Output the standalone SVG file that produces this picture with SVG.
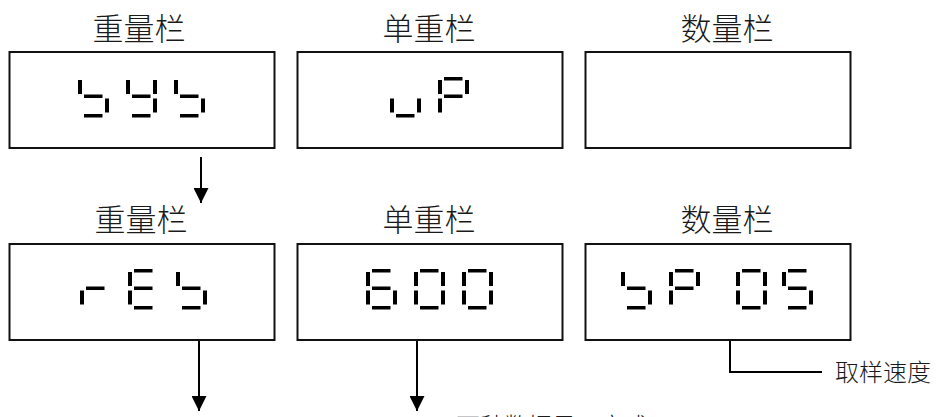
<svg xmlns="http://www.w3.org/2000/svg" width="940" height="417" viewBox="0 0 940 417">
<style>
.box{fill:#fff;stroke:#111;stroke-width:2}
.lbl{font-family:"Noto Sans CJK SC","Noto Sans",sans-serif;font-size:31px;font-weight:300;fill:#1a1a1a;text-anchor:middle}
.txt{font-family:"Noto Sans CJK SC","Noto Sans",sans-serif;font-size:24px;font-weight:300;fill:#1a1a1a}
.seg{fill:#000}
.ln{stroke:#000;stroke-width:2;fill:none}
</style>
<defs>
<rect id="a" class="seg" x="6" y="0" width="18.5" height="3.5"/>
<rect id="f" class="seg" x="0" y="3" width="4" height="14"/>
<rect id="b" class="seg" x="27" y="3" width="4" height="14"/>
<rect id="g" class="seg" x="6" y="17.5" width="18.5" height="3.5"/>
<rect id="e" class="seg" x="0" y="21.5" width="4" height="14"/>
<rect id="c" class="seg" x="27" y="21.5" width="4" height="14"/>
<rect id="d" class="seg" x="6" y="37" width="18.5" height="3.5"/>
<g id="d_s"><use href="#f"/><use href="#g"/><use href="#c"/><use href="#d"/></g>
<g id="d_y"><use href="#f"/><use href="#b"/><use href="#g"/><use href="#c"/><use href="#d"/></g>
<g id="d_u"><use href="#e"/><use href="#c"/><use href="#d"/></g>
<g id="d_P"><use href="#a"/><use href="#f"/><use href="#b"/><use href="#g"/><use href="#e"/></g>
<g id="d_r"><use href="#g"/><use href="#e"/></g>
<g id="d_E"><use href="#a"/><use href="#f"/><use href="#g"/><use href="#e"/><use href="#d"/></g>
<g id="d_6"><use href="#a"/><use href="#f"/><use href="#g"/><use href="#e"/><use href="#c"/><use href="#d"/></g>
<g id="d_0"><use href="#a"/><use href="#f"/><use href="#b"/><use href="#e"/><use href="#c"/><use href="#d"/></g>
<g id="d_5"><use href="#a"/><use href="#f"/><use href="#g"/><use href="#c"/><use href="#d"/></g>
<marker id="arr" markerWidth="15" markerHeight="15" refX="15" refY="7.5" orient="auto" markerUnits="userSpaceOnUse" viewBox="0 0 15 15">
<path d="M0,0 L15,7.5 L0,15 Z" fill="#000"/>
</marker>
</defs>
<rect width="940" height="417" fill="#fff"/>

<g id="w1">
<text class="lbl" x="139" y="40">重量栏</text>
<rect class="box" x="9.5" y="52" width="265" height="96"/>
<use href="#d_s" x="78" y="77"/><use href="#d_y" x="126" y="77"/><use href="#d_s" x="174" y="77"/>
</g>
<g id="u1">
<text class="lbl" x="429" y="40">单重栏</text>
<rect class="box" x="297.5" y="52" width="265" height="96"/>
<use href="#d_u" x="390" y="77"/><use href="#d_P" x="438" y="77"/>
</g>
<g id="q1">
<text class="lbl" x="727" y="40">数量栏</text>
<rect class="box" x="585.5" y="52" width="265" height="96"/>
</g>

<g id="w2">
<text class="lbl" x="141" y="231">重量栏</text>
<rect class="box" x="9.5" y="244" width="265" height="96"/>
<use href="#d_r" x="80" y="269"/><use href="#d_E" x="128" y="269"/><use href="#d_s" x="176" y="269"/>
</g>
<g id="u2">
<text class="lbl" x="429" y="231">单重栏</text>
<rect class="box" x="297.5" y="244" width="265" height="96"/>
<use href="#d_6" x="366" y="269"/><use href="#d_0" x="414" y="269"/><use href="#d_0" x="462" y="269"/>
</g>
<g id="q2">
<text class="lbl" x="727" y="231">数量栏</text>
<rect class="box" x="585.5" y="244" width="265" height="96"/>
<use href="#d_s" x="621" y="269"/><use href="#d_P" x="669" y="269"/><use href="#d_0" x="736" y="269"/><use href="#d_5" x="782" y="269"/>
</g>

<g id="speed">
<text class="txt" x="835" y="381">取样速度</text>
</g>
<g id="bottom">
<text class="txt" x="456" y="435">两种数据显示方式</text>
</g>

<g id="connectors">
<line class="ln" x1="201" y1="157" x2="201" y2="203" marker-end="url(#arr)"/>
<line class="ln" x1="199" y1="341" x2="199" y2="411" marker-end="url(#arr)"/>
<line class="ln" x1="417" y1="341" x2="417" y2="411" marker-end="url(#arr)"/>
<polyline class="ln" points="730,341 730,372 822,372"/>
</g>
</svg>
